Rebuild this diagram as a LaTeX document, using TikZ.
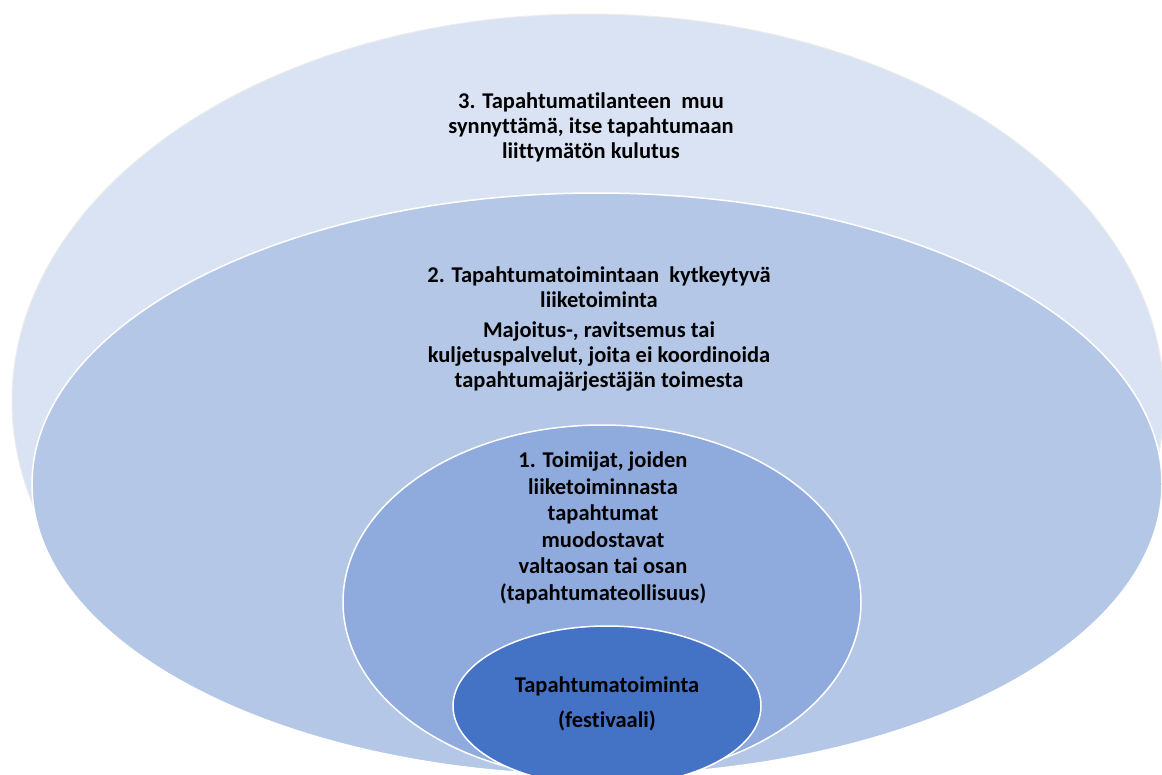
\documentclass[tikz,border=0pt]{standalone}
\usepackage{fontspec}
\setmainfont{Carlito}[Ligatures=NoCommon]
\definecolor{c3}{HTML}{DAE3F3}
\definecolor{c2}{HTML}{B4C7E7}
\definecolor{c1}{HTML}{8FAADC}
\definecolor{c0}{HTML}{4472C4}
\tikzset{
  ring/.style={draw=white, line width=1.5pt},
  lbl/.style={align=center, font=\fontsize{22.5}{25}\selectfont\bfseries, text=black, inner sep=0pt}
}
\begin{document}
\begin{tikzpicture}[x=1pt,y=-1pt]
\useasboundingbox (0,0) rectangle (1162,774);
\clip (0,0) rectangle (1162,774);
\fill[white] (0,0) rectangle (1162,774);
\begin{scope}
\clip (0,0) rectangle (1162,505);
\fill[c3, draw=white!85!gray, line width=1pt] (588,401) ellipse [x radius=576pt, y radius=387pt];
\end{scope}
\fill[c2, ring] (597,484) ellipse [x radius=565pt, y radius=291pt];
\fill[c1, ring] (602,602) ellipse [x radius=259pt, y radius=177pt];
\fill[c0, ring] (607,706) ellipse [x radius=154pt, y radius=80pt];
\node[lbl] (t3) at (591,127) {3. Tapahtumatilanteen\ \ muu\\synnyttämä, itse tapahtumaan\\liittymätön kulutus};
\node[lbl] (t2a) at (599,287) {2. Tapahtumatoimintaan\ \ kytkeytyvä\\liiketoiminta};
\node[lbl] (t2b) at (599,357) {Majoitus-, ravitsemus tai\\kuljetuspalvelut, joita ei koordinoida\\tapahtumajärjestäjän toimesta};
\node[lbl, font=\fontsize{22.5}{26.5}\selectfont\bfseries] (t1) at (603,528) {1. Toimijat, joiden\\liiketoiminnasta\\tapahtumat\\muodostavat\\valtaosan tai osan\\(tapahtumateollisuus)};
\node[lbl, font=\fontsize{22.5}{35}\selectfont\bfseries] (t0) at (607,704) {Tapahtumatoiminta\\(festivaali)};
\end{tikzpicture}
\end{document}
